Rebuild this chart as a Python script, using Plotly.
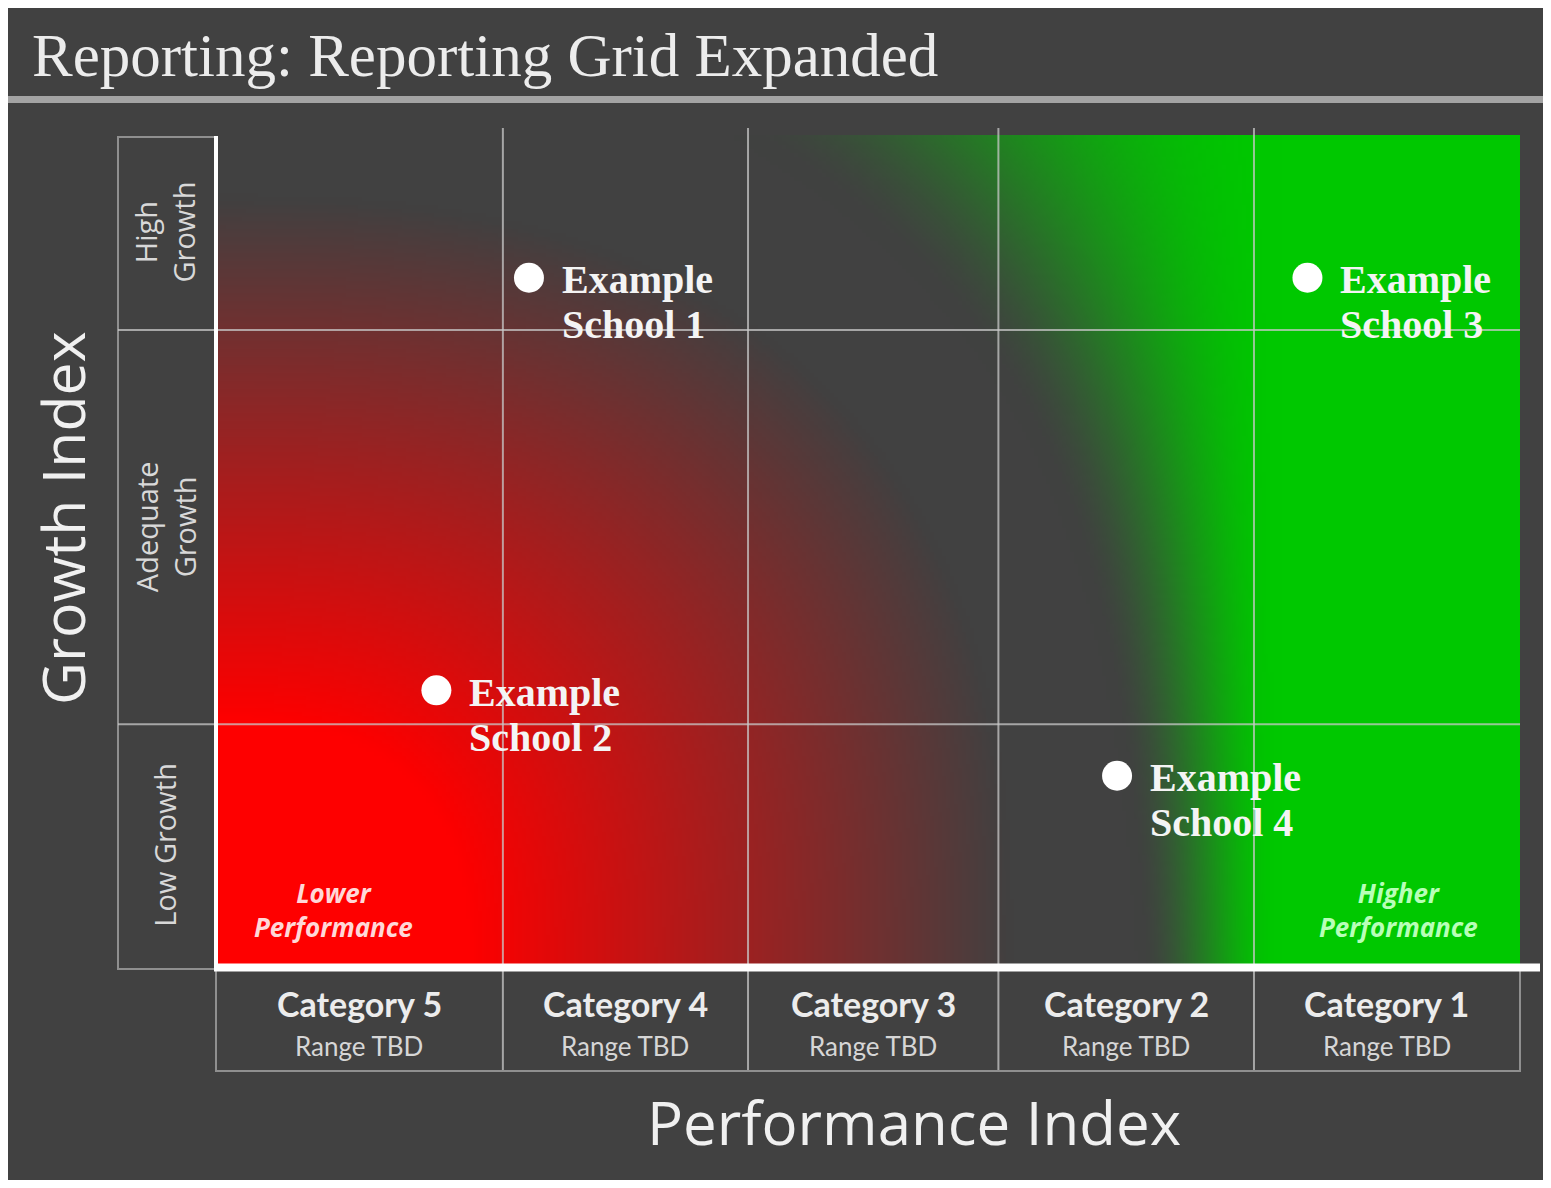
import base64
import struct
import zlib

import numpy as np
import plotly.graph_objects as go

# ---------------- data ----------------
categories = ["Category 5", "Category 4", "Category 3", "Category 2", "Category 1"]
category_ranges = ["Range TBD", "Range TBD", "Range TBD", "Range TBD", "Range TBD"]
col_edges = [0, 22.0, 40.8, 60.0, 79.6, 100]          # performance index boundaries

growth_rows = ["Low Growth", "Adequate<br>Growth", "High<br>Growth"]
row_edges = [0, 29.0, 76.5, 100]                        # growth index boundaries

schools = ["School 1", "School 2", "School 3", "School 4"]
school_perf = [24.0, 16.9, 83.7, 69.1]
school_growth = [82.8, 33.1, 82.8, 22.8]

title_text = "Reporting: Reporting Grid Expanded"
x_title = "Performance Index"
y_title = "Growth Index"
low_label = "Lower<br>Performance"
high_label = "Higher<br>Performance"

# ---------------- page geometry helpers ----------------
# the page body has an 8px margin, so the figure starts at (8, 8) on the page
OFF = 8
FW, FH = 1541, 1172
def px(x):
    return (x - OFF) / FW
def py(y):
    return 1 - (y - OFF) / FH

PL, PR, PT, PB = 216, 1520, 135, 965      # plot area in page pixels
BG = "#414141"
GRID = "rgba(200,200,200,0.75)"
BOX = "#8f8f8f"

# ---------------- background gradient image ----------------
iw, ih = 326, 208
u = np.linspace(0, PR - PL, iw)[None, :]
v = np.linspace(0, PB - PT, ih)[:, None]

def smooth(t):
    t = np.clip(t, 0, 1)
    return t * t * (3 - 2 * t)

p = 2.5
dr = ((u / 795.0) ** p + (((PB - PT) - v) / 770.0) ** p) ** (1 / p)
red_a = np.clip((1 - dr) / 0.68, 0, 1)

du = (PR - PL) - u
outer = 365 + 420 * np.exp(-v / 250.0)
full = 240.0
green_a = smooth((outer - du) / (outer - full))

dark = np.array([65, 65, 65], float)
red = np.array([254, 0, 0], float)
green = np.array([0, 200, 0], float)
img = dark[None, None, :] + red_a[..., None] * (red - dark)
img = img + green_a[..., None] * (green - img)
img = np.clip(img, 0, 255).astype(np.uint8)

def png_uri(arr):
    h, w, _ = arr.shape
    raw = b"".join(b"\x00" + arr[i].tobytes() for i in range(h))
    def chunk(tag, data):
        c = struct.pack(">I", len(data)) + tag + data
        return c + struct.pack(">I", zlib.crc32(tag + data) & 0xFFFFFFFF)
    png = b"\x89PNG\r\n\x1a\n"
    png += chunk(b"IHDR", struct.pack(">IIBBBBB", w, h, 8, 2, 0, 0, 0))
    png += chunk(b"IDAT", zlib.compress(raw, 9))
    png += chunk(b"IEND", b"")
    return "data:image/png;base64," + base64.b64encode(png).decode()

# ---------------- figure ----------------
fig = go.Figure()

fig.add_trace(go.Scatter(
    x=school_perf, y=school_growth, mode="markers",
    marker=dict(size=30, color="white", line=dict(width=0)),
    hoverinfo="skip", showlegend=False,
))

shapes = []
annotations = []

# title underline
shapes.append(dict(type="rect", xref="paper", yref="paper", x0=0, x1=1,
                   y0=py(103), y1=py(96), fillcolor="#a3a3a3", line=dict(width=0), layer="below"))

# horizontal grid lines at growth boundaries
for yv in row_edges[1:-1]:
    shapes.append(dict(type="line", xref="paper", yref="y", x0=px(118), x1=px(PR),
                       y0=yv, y1=yv, line=dict(color=GRID, width=2), layer="above"))
# vertical grid lines at performance boundaries
for xv in col_edges[1:-1]:
    shapes.append(dict(type="line", xref="x", yref="paper", x0=xv, x1=xv,
                       y0=py(1070), y1=py(128), line=dict(color=GRID, width=2), layer="above"))

# left growth boxes
shapes.append(dict(type="rect", xref="paper", yref="paper", x0=px(118), x1=px(PL),
                   y0=py(969), y1=py(137), line=dict(color=BOX, width=2), layer="below"))
# bottom category boxes
shapes.append(dict(type="rect", xref="paper", yref="paper", x0=px(PL), x1=px(PR),
                   y0=py(1071), y1=py(970), line=dict(color=BOX, width=2), layer="below"))

# white axis lines
shapes.append(dict(type="line", xref="paper", yref="paper", x0=px(PL), x1=px(PL),
                   y0=py(971), y1=py(136), line=dict(color="white", width=4), layer="above"))
shapes.append(dict(type="line", xref="paper", yref="paper", x0=px(PL - 2), x1=px(1540),
                   y0=py(967.5), y1=py(967.5), line=dict(color="white", width=8), layer="above"))

# title
annotations.append(dict(text=title_text, xref="paper", yref="paper", x=px(30), y=py(56),
                        xanchor="left", yanchor="middle", showarrow=False,
                        font=dict(family="Liberation Serif", size=61, color="#ececec")))

# axis titles
annotations.append(dict(text=x_title, xref="paper", yref="paper", x=px(914), y=py(1122),
                        xanchor="center", yanchor="middle", showarrow=False,
                        font=dict(family="Open Sans", size=60, color="#f0f0f0")))
annotations.append(dict(text=y_title, xref="paper", yref="paper", x=px(62), y=py(518),
                        xanchor="center", yanchor="middle", showarrow=False, textangle=-90,
                        font=dict(family="Open Sans", size=59, color="#f0f0f0")))

# category labels
for i, (c, r) in enumerate(zip(categories, category_ranges)):
    xc = (col_edges[i] + col_edges[i + 1]) / 2
    annotations.append(dict(text="<b>" + c + "</b>", xref="x", yref="paper", x=xc, y=py(1003),
                            xanchor="center", yanchor="middle", showarrow=False,
                            font=dict(family="Lato", size=34, color="#ececec")))
    annotations.append(dict(text=r, xref="x", yref="paper", x=xc, y=py(1046),
                            xanchor="center", yanchor="middle", showarrow=False,
                            font=dict(family="Lato", size=26, color="#d6d6d6")))

# growth row labels
for i, g in enumerate(growth_rows):
    yc = (row_edges[i] + row_edges[i + 1]) / 2
    annotations.append(dict(text=g, xref="paper", yref="y", x=px(165), y=yc,
                            xanchor="center", yanchor="middle", showarrow=False, textangle=-90,
                            font=dict(family="Open Sans", size=29, color="#d8d8d8")))

# school labels (two lines each, tight line spacing)
for s, xv, yv in zip(schools, school_perf, school_growth):
    for line_text, ys in (("Example", -2), (s, -47)):
        annotations.append(dict(text="<b>" + line_text + "</b>", xref="x", yref="y", x=xv, y=yv,
                                xanchor="left", yanchor="middle", xshift=31, yshift=ys,
                                align="left", showarrow=False,
                                font=dict(family="Liberation Serif", size=40, color="#f4f4f4")))

# performance corner labels
annotations.append(dict(text="<b><i>" + low_label + "</i></b>", xref="paper", yref="paper",
                        x=px(333), y=py(910), xanchor="center", yanchor="middle", showarrow=False,
                        font=dict(family="Open Sans", size=26, color="#ffd8d8")))
annotations.append(dict(text="<b><i>" + high_label + "</i></b>", xref="paper", yref="paper",
                        x=px(1398), y=py(910), xanchor="center", yanchor="middle", showarrow=False,
                        font=dict(family="Open Sans", size=26, color="#b8ffb8")))

fig.update_layout(
    width=FW, height=FH,
    margin=dict(l=0, r=0, t=0, b=0),
    paper_bgcolor=BG,
    plot_bgcolor=BG,
    showlegend=False,
    xaxis=dict(domain=[px(PL), px(PR)], range=[0, 100], showgrid=False, zeroline=False,
               showticklabels=False, ticks="", fixedrange=True),
    yaxis=dict(domain=[py(PB), py(PT)], range=[0, 100], showgrid=False, zeroline=False,
               showticklabels=False, ticks="", fixedrange=True),
    images=[dict(source=png_uri(img), xref="x", yref="y", x=0, y=100, sizex=100, sizey=100,
                 xanchor="left", yanchor="top", sizing="stretch", layer="below")],
    shapes=shapes,
    annotations=annotations,
)

fig.write_html("out.html")
